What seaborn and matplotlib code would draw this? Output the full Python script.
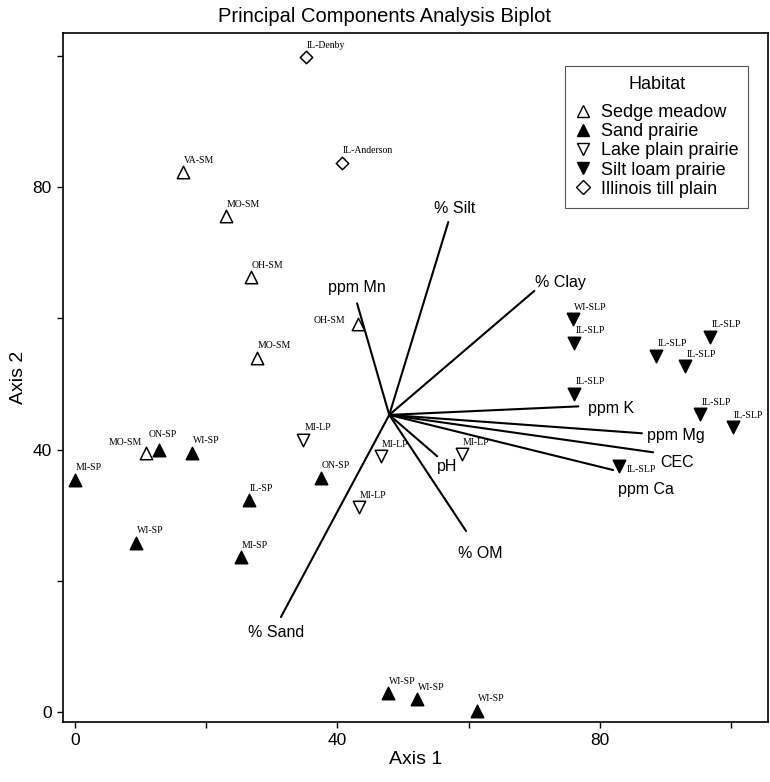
import numpy as np
import pandas as pd
import seaborn as sns
import matplotlib.pyplot as plt
from matplotlib.lines import Line2D

# Site scores (Axis 1, Axis 2) by habitat
sm_labels = ["VA-SM", "MO-SM", "OH-SM", "OH-SM", "MO-SM", "MO-SM"]
sm_x = [16.5, 23.0, 26.8, 43.1, 27.7, 10.8]
sm_y = [82.3, 75.6, 66.3, 59.1, 54.0, 39.5]

sp_labels = ["MI-SP", "ON-SP", "WI-SP", "IL-SP", "ON-SP", "WI-SP", "MI-SP",
             "WI-SP", "WI-SP", "WI-SP"]
sp_x = [0.0, 12.8, 17.8, 26.5, 37.5, 9.3, 25.3, 47.7, 52.1, 61.3]
sp_y = [35.4, 40.0, 39.5, 32.3, 35.7, 25.8, 23.6, 2.9, 2.0, 0.2]

lp_labels = ["MI-LP", "MI-LP", "MI-LP", "MI-LP"]
lp_x = [34.8, 46.6, 43.3, 59.0]
lp_y = [41.5, 39.0, 31.2, 39.3]

slp_labels = ["WI-SLP", "IL-SLP", "IL-SLP", "IL-SLP", "IL-SLP", "IL-SLP",
              "IL-SLP", "IL-SLP", "IL-SLP"]
slp_x = [75.9, 76.1, 88.6, 96.8, 93.0, 76.1, 95.3, 100.2, 82.9]
slp_y = [59.9, 56.3, 54.3, 57.2, 52.7, 48.5, 45.4, 43.4, 37.5]

itp_labels = ["IL-Denby", "IL-Anderson"]
itp_x = [35.2, 40.7]
itp_y = [99.8, 83.7]

# Environmental vectors
origin = (47.9, 45.3)
var_names = ["% Silt", "% Clay", "ppm Mn", "ppm K", "ppm Mg", "CEC",
             "ppm Ca", "pH", "% OM", "% Sand"]
var_x = [56.9, 70.0, 43.0, 76.7, 86.4, 88.1, 82.0, 55.2, 59.6, 31.4]
var_y = [74.7, 64.2, 62.3, 46.6, 42.5, 39.6, 36.9, 39.0, 27.6, 14.5]

habitats = ["Sedge meadow", "Sand prairie", "Lake plain prairie",
            "Silt loam prairie", "Illinois till plain"]

frames = []
for hab, labs, xs, ys in zip(habitats,
                             [sm_labels, sp_labels, lp_labels, slp_labels, itp_labels],
                             [sm_x, sp_x, lp_x, slp_x, itp_x],
                             [sm_y, sp_y, lp_y, slp_y, itp_y]):
    frames.append(pd.DataFrame({"site": labs, "axis1": xs, "axis2": ys, "habitat": hab}))
df = pd.concat(frames, ignore_index=True)

# marker, face colour, size per habitat
styles = {
    "Sedge meadow": ("^", "white", 80),
    "Sand prairie": ("^", "black", 80),
    "Lake plain prairie": ("v", "white", 80),
    "Silt loam prairie": ("v", "black", 80),
    "Illinois till plain": ("D", "white", 40),
}

sns.set_style("ticks")
plt.rcParams['font.family'] = ['Liberation Sans', 'DejaVu Sans']
plt.rcParams['text.color'] = 'black'
plt.rcParams['axes.labelcolor'] = 'black'
plt.rcParams['xtick.color'] = 'black'
plt.rcParams['ytick.color'] = 'black'

fig, ax = plt.subplots(figsize=(7.7, 7.82), dpi=100)
fig.subplots_adjust(left=63/770, right=768/770, bottom=1-722/782, top=1-33/782)

for hab in habitats:
    mk, fc, s = styles[hab]
    sub = df[df["habitat"] == hab]
    sns.scatterplot(data=sub, x="axis1", y="axis2", marker=mk, s=s,
                    facecolor=fc, edgecolor="black", linewidth=1.1, ax=ax,
                    zorder=3, legend=False)

# site labels (offset in pixels; a few are moved to avoid overlaps)
special = {
    (43.1, 59.1): (-12, 4, "right"),
    (10.8, 39.5): (-4, 10, "right"),
    (12.8, 40.0): (-10, 15, "left"),
    (82.9, 37.5): (8, -3, "left"),
}
for _, r in df.iterrows():
    dx, dy, ha = special.get((r.axis1, r.axis2), (1, 12, "left"))
    ax.annotate(r.site, (r.axis1, r.axis2), xytext=(dx, dy),
                textcoords="offset pixels", ha=ha, va="center",
                fontsize=7, family="Liberation Serif", zorder=4)

# vectors
label_pos = {
    "% Silt": (6, 13, "center"), "% Clay": (1, 8, "left"),
    "ppm Mn": (0, 16, "center"), "ppm K": (10, -2, "left"),
    "ppm Mg": (5, -2, "left"), "CEC": (7, -10, "left"),
    "ppm Ca": (33, -19, "center"), "pH": (10, -10, "center"),
    "% OM": (14, -22, "center"), "% Sand": (-5, -15, "center"),
}
for name, vx, vy in zip(var_names, var_x, var_y):
    ax.plot([origin[0], vx], [origin[1], vy], color="black", lw=1.5, zorder=2)
    dx, dy, ha = label_pos[name]
    ax.annotate(name, (vx, vy), xytext=(dx, dy), textcoords="offset pixels",
                ha=ha, va="center", fontsize=11.5)

ax.set_xlim(-1.8, 105.6)
ax.set_ylim(-1.5, 103.5)
ax.set_xticks([0, 20, 40, 60, 80, 100])
ax.set_xticklabels(["0", "", "40", "", "80", ""])
ax.set_yticks([0, 20, 40, 60, 80, 100])
ax.set_yticklabels(["0", "", "40", "", "80", ""])
ax.tick_params(direction="out", length=4, width=1, labelsize=12.5, pad=4, color="black")
for sp in ax.spines.values():
    sp.set_color("black")
    sp.set_linewidth(1.2)

ax.set_xlabel("Axis 1", fontsize=14, labelpad=2)
ax.set_ylabel("Axis 2", fontsize=14, labelpad=4)
fig.suptitle("Principal Components Analysis Biplot", fontsize=14.5,
             x=0.5, y=1-17/782, va="center")

handles = [Line2D([], [], linestyle="none", marker=styles[h][0],
                  markerfacecolor=styles[h][1], markeredgecolor="black",
                  markersize=9 if styles[h][0] != "D" else 7, markeredgewidth=1)
           for h in habitats]
leg = ax.legend(handles, habitats, title="Habitat", loc="upper right",
                bbox_to_anchor=(0.972, 0.952), borderaxespad=0,
                fontsize=13, title_fontsize=13, labelspacing=0.12,
                handlelength=0.8, handletextpad=0.6, borderpad=0.55,
                fancybox=False, framealpha=1)
leg.get_frame().set_edgecolor("#555555")
leg.get_frame().set_linewidth(0.8)
leg._legend_box.sep = 8

plt.savefig("out.png", dpi=100)
plt.close()
